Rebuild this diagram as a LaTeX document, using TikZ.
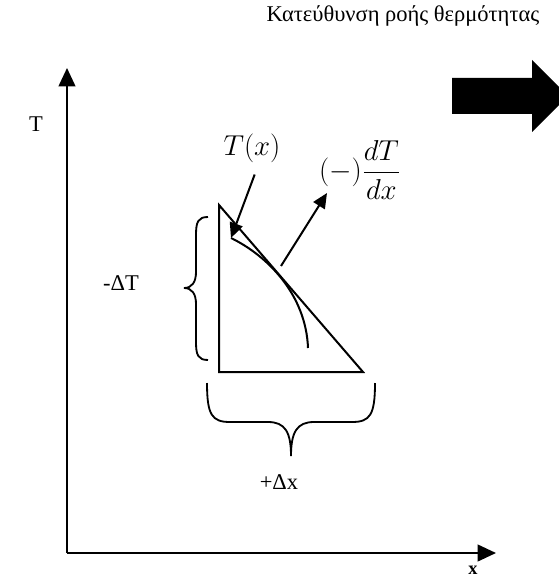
\documentclass[tikz,border=0pt]{standalone}
\usepackage{fontspec}
\setmainfont{Liberation Serif}
\usetikzlibrary{arrows.meta}
\tikzset{
  axis/.style={line width=1.2pt,-{Triangle[length=11pt,width=10pt]}},
  slope/.style={line width=1.2pt,-{Triangle[length=9pt,width=8pt]}},
  curly/.style={line width=1.1pt},
  lbl/.style={font=\fontsize{13.5}{16}\selectfont},
}
\begin{document}
\begin{tikzpicture}[x=0.6pt,y=-0.6pt]
    \useasboundingbox (0,0) rectangle (558,580);
    % heat flow direction (top)
    \node[lbl] (title) at (403,16) {Κατεύθυνση ροής θερμότητας};
    \fill (452,78) -- (532,78) -- (532,60) -- (568,96) -- (532,132) -- (532,114) -- (452,114) -- cycle;

    % axes
    \coordinate (origin) at (67,553);
    \coordinate (ytip) at (67,68);
    \coordinate (xtip) at (496,553);
    \draw[axis] (origin) -- (ytip);
    \draw[axis] (origin) -- (xtip);
    \node[lbl] (ylab) at (36,124) {T};
    \node[font=\fontsize{11}{13}\selectfont\bfseries,inner sep=1pt] (xlab) at (473,570) {x};

    % triangle
    \coordinate (top) at (219,205);
    \coordinate (corner) at (219,372);
    \coordinate (right) at (363,372);
    \draw[line width=1.2pt] (top) -- (corner) -- (right) -- cycle;

    % braces
    \draw[curly] (208,217) .. controls (198,217) and (196,222) .. (196,235) -- (196,272)
      .. controls (196,282) and (192,288) .. (184,288)
      .. controls (192,288) and (196,294) .. (196,304) -- (196,342)
      .. controls (196,355) and (198,360) .. (208,360);
    \node[lbl] (dT) at (121,283) {-ΔT};
    \draw[curly] (207,383) .. controls (207,415) and (212,422) .. (230,422) -- (268,422)
      .. controls (285,422) and (291,432) .. (291,456)
      .. controls (291,432) and (297,422) .. (314,422) -- (352,422)
      .. controls (370,422) and (375,415) .. (375,383);
    \node[lbl] (dx) at (279,482) {+Δx};

    % curve and slope
    \node[font=\fontsize{16.5}{19}\selectfont] (tx) at (252,148) {$T(x)$};
    \coordinate (curvestart) at (231,238);
    \draw[slope,shorten <=4pt] ([xshift=3pt]tx.south) -- (curvestart);
    \draw[line width=1.2pt] (curvestart) .. controls (268,256) and (306,295) .. (308,348);
    \coordinate (touch) at (281,266);
    \coordinate (slopetip) at (327,193);
    \draw[slope] (touch) -- (slopetip);
    \node[font=\fontsize{17.5}{20}\selectfont] (grad) at (360,170) {$\displaystyle(-)\frac{dT}{dx}$};
\end{tikzpicture}
\end{document}
